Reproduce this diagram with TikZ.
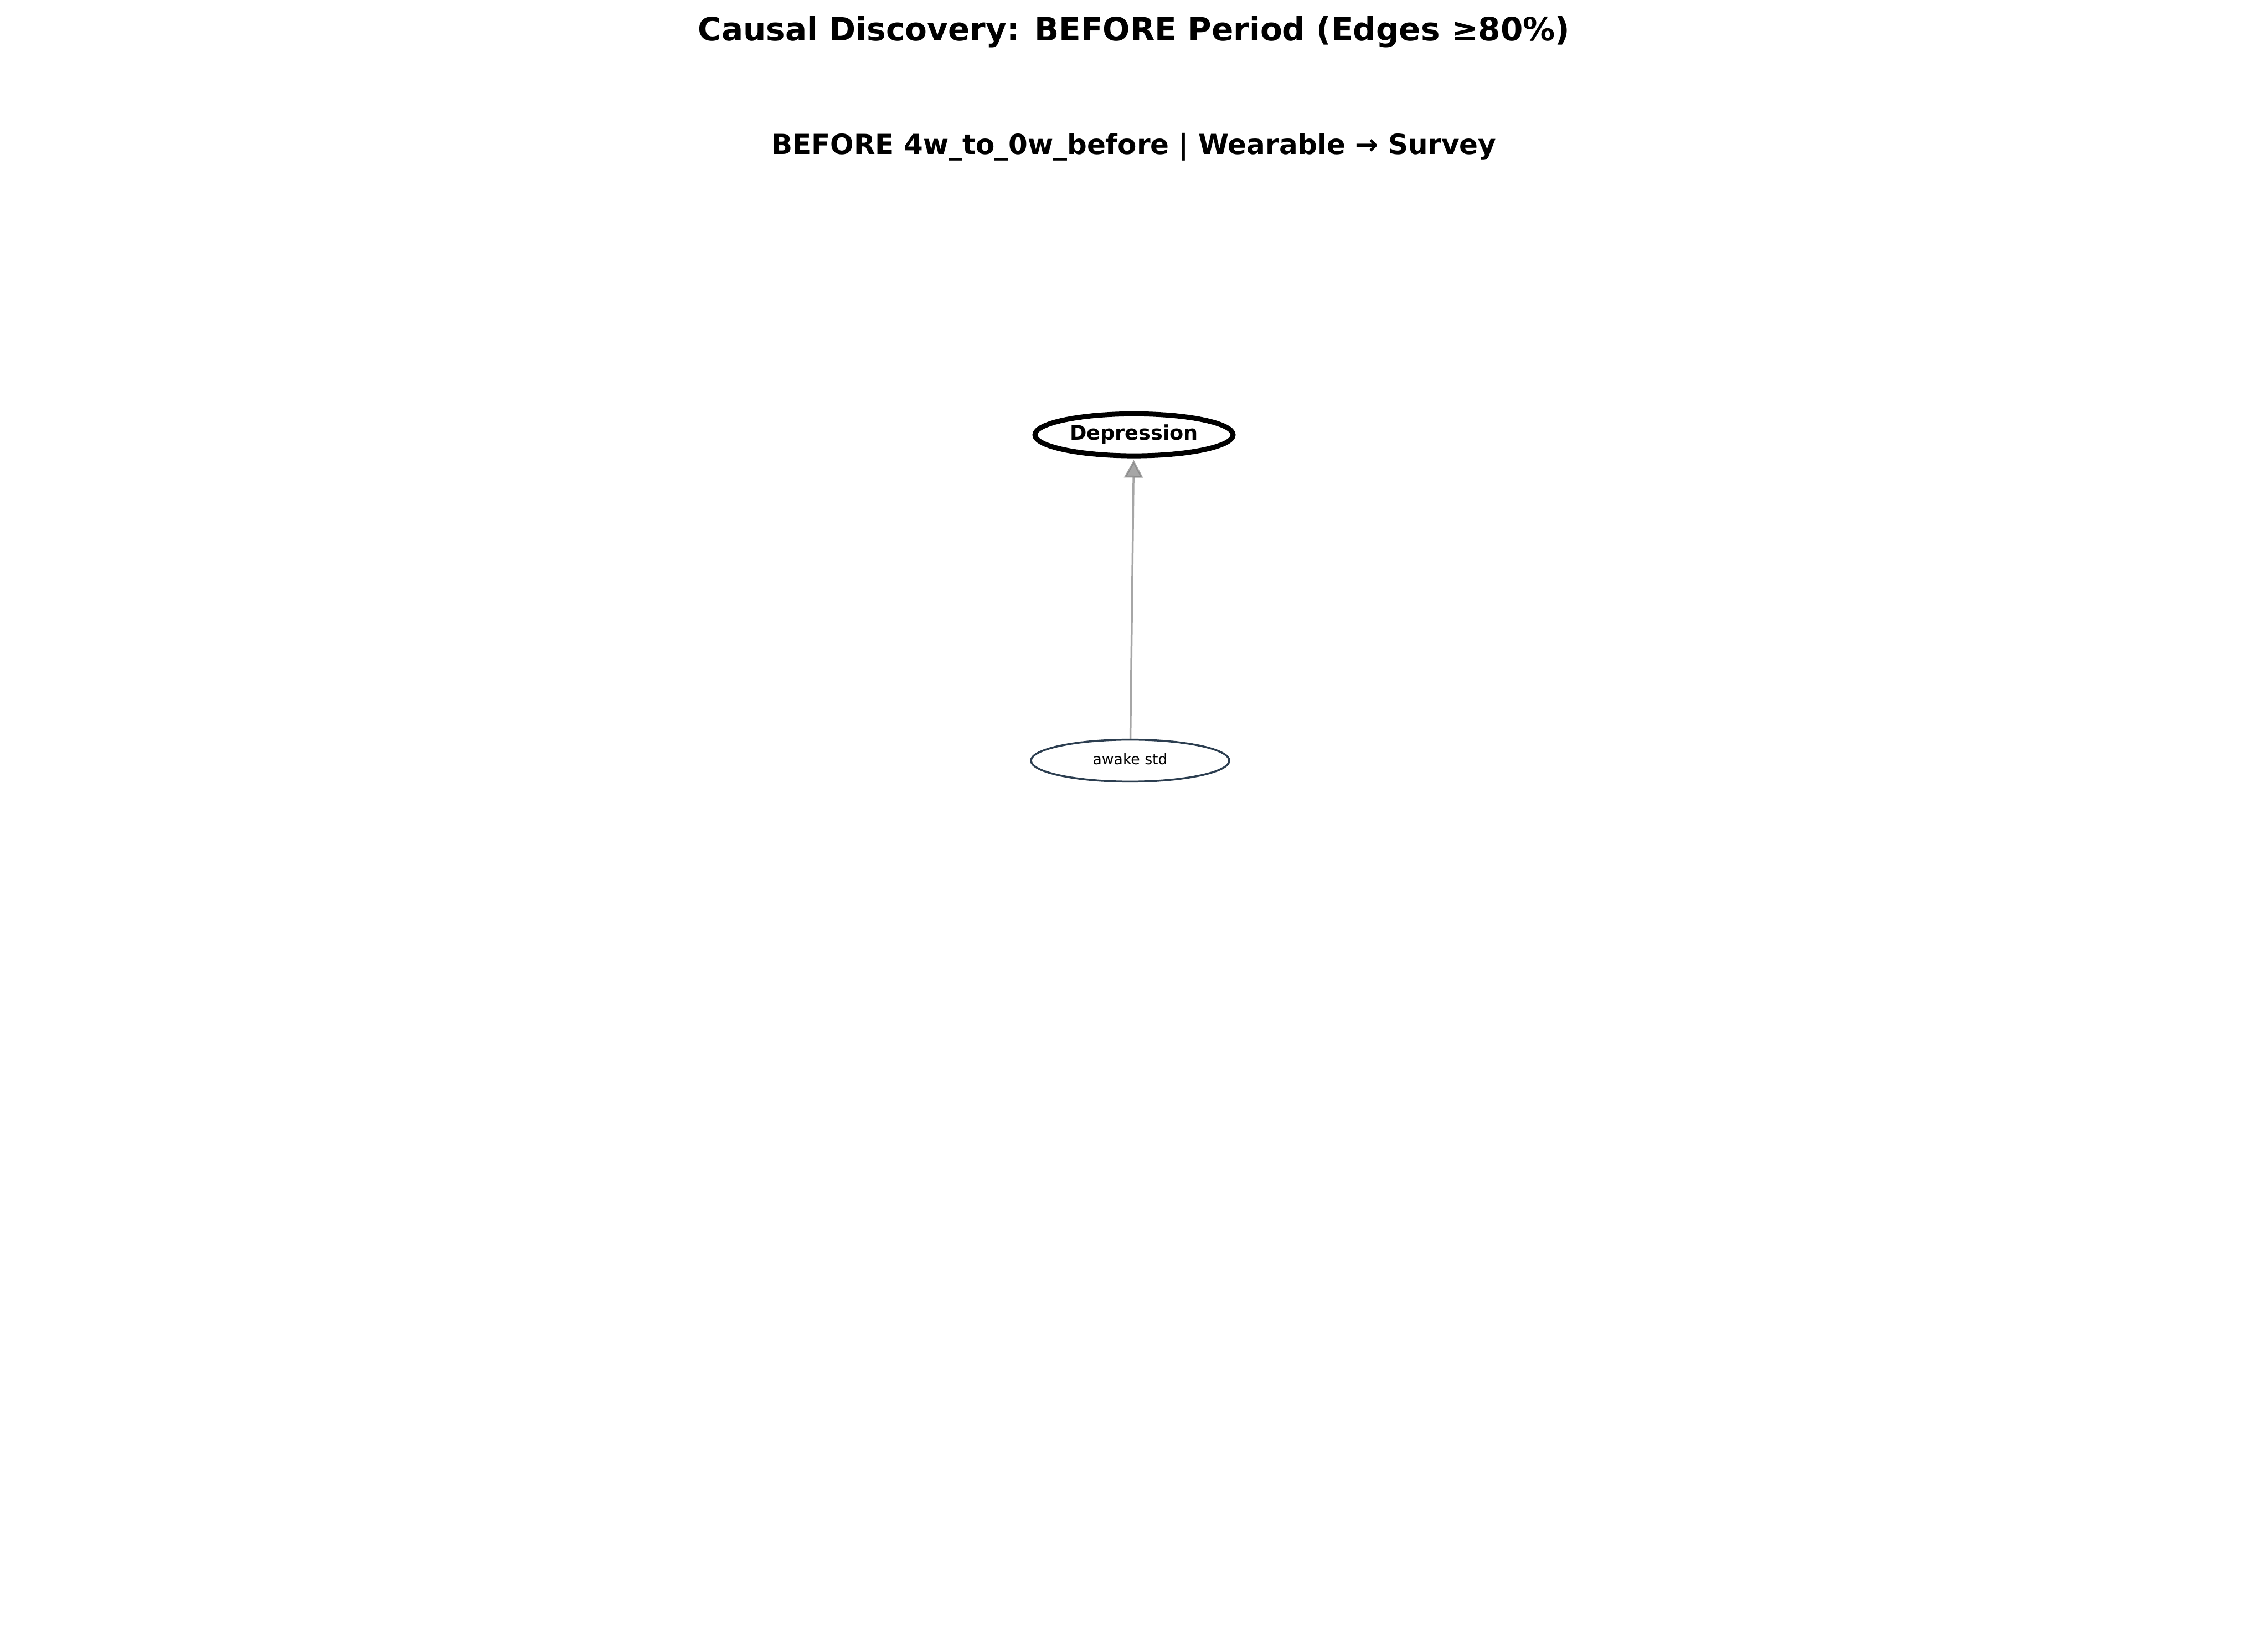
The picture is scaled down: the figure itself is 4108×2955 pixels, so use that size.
\documentclass[tikz,border=0pt]{standalone}
\usepackage{fontspec}
\setmainfont{DejaVu Sans}
\usetikzlibrary{shapes.geometric,arrows.meta}
\tikzset{
  titletext/.style={font=\fontsize{58.2}{64}\selectfont\bfseries, anchor=base},
  subtext/.style={font=\fontsize{50.1}{56}\selectfont\bfseries, anchor=base},
  target/.style={ellipse, draw=black, line width=9pt, fill=white, minimum width=359pt, minimum height=76pt, inner sep=0pt},
  targettext/.style={font=\fontsize{36.7}{42}\selectfont\bfseries, anchor=base},
  source/.style={ellipse, draw={rgb,255:red,44;green,62;blue,80}, line width=3.5pt, fill=white, minimum width=359pt, minimum height=76pt, inner sep=0pt},
  sourcetext/.style={font=\fontsize{26.7}{30}\selectfont, anchor=base},
  edge/.style={draw=gray, opacity=0.7, line width=3.5pt, -{Triangle[length=32pt,width=34pt,fill=gray]}, shorten >=3pt}
}
\begin{document}
\begin{tikzpicture}[x=1pt,y=-1pt]
\useasboundingbox (0,0) rectangle (4108,2955);
\node[titletext] (title) at (2054,74) {Causal Discovery: BEFORE Period (Edges ≥80\%)};
\node[subtext] (sub) at (2054,279) {BEFORE 4w\_to\_0w\_before | Wearable → Survey};
\node[target] (dep) at (2054,787.5) {};
\node[source] (awk) at (2047,1377.5) {};
\draw[edge] (awk) -- (dep);
\node[targettext] (deplabel) at (2054,797) {Depression};
\node[sourcetext] (awklabel) at (2047,1385) {awake std};
\end{tikzpicture}
\end{document}
